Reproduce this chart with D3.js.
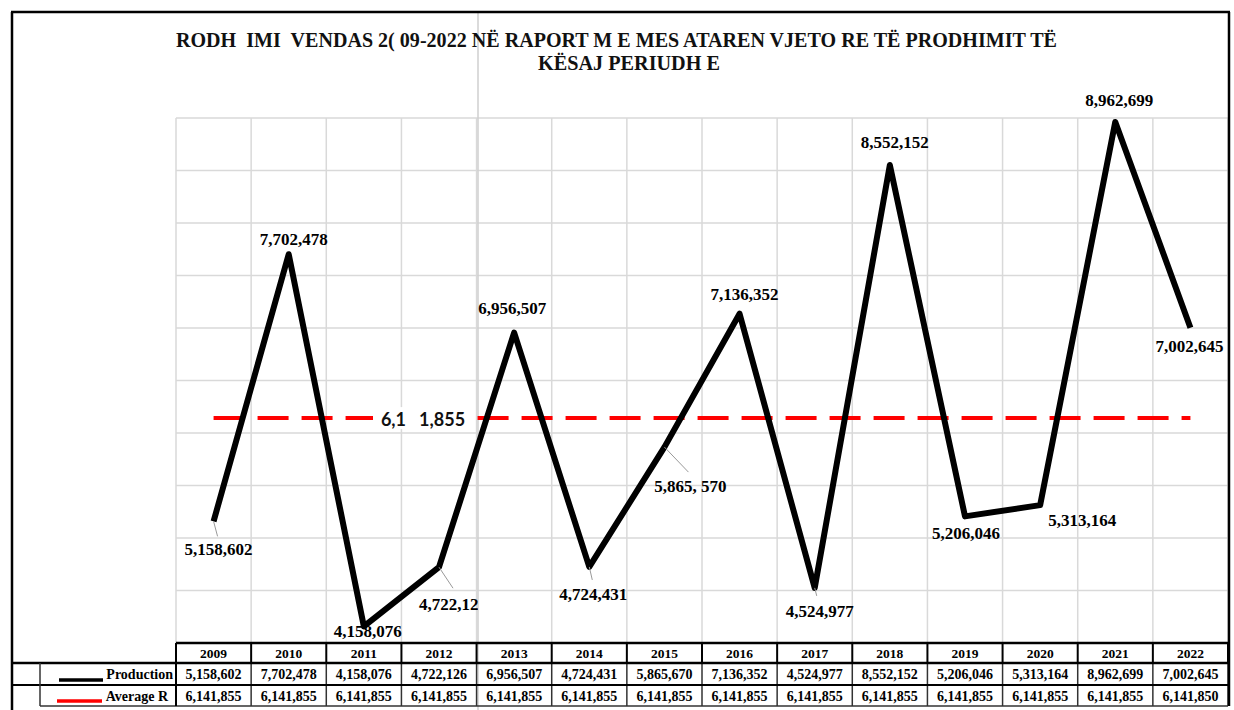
<!DOCTYPE html>
<html>
<head>
<meta charset="utf-8">
<script src="https://cdn.jsdelivr.net/npm/d3@7"></script>
<style>
  body { margin: 0; background: #fff; }
  svg { display: block; }
</style>
</head>
<body>
<div id="chart"></div>
<script>
// data
const years = ["2009","2010","2011","2012","2013","2014","2015","2016","2017","2018","2019","2020","2021","2022"];
const production = [5158602, 7702478, 4158076, 4722126, 6956507, 4724431, 5865670, 7136352, 4524977, 8552152, 5206046, 5313164, 8962699, 7002645];
const average = [6141855, 6141855, 6141855, 6141855, 6141855, 6141855, 6141855, 6141855, 6141855, 6141855, 6141855, 6141855, 6141855, 6141850];
const titleLines = ["RODH  IMI  VENDAS 2( 09-2022 NË RAPORT M E MES ATAREN VJETO RE TË PRODHIMIT TË", "KËSAJ PERIUDH E"];
const seriesNames = ["Production", "Average R"];

// label placement (dx, dy from the point), leader end offsets
const labelOffsets = [[5,34],[5,-9],[4,11],[14,43],[-2,-19],[4,33],[26,45],[5,-14],[5,29],[5,-17],[1,23],[42,21],[4,-16],[-1,24]];
const leaders = [[4,15],null,null,[14,21],null,[3,13],[24,25],null,[2,8],null,null,null,null,null];

const W = 1234, H = 710;
const plot = {left: 176, right: 1228, top: 118, bottom: 643};

const svg = d3.select("#chart").append("svg")
  .attr("width", W).attr("height", H);

const x = d3.scaleBand().domain(years).range([plot.left, plot.right]);
const y = d3.scaleLinear().domain([4000000, 9000000]).range([plot.bottom, plot.top]);
const cx = d => x(d) + x.bandwidth() / 2;
const fmt = d3.format(",");

// gridlines
const grid = svg.append("g").attr("stroke", "#d9d9d9").attr("stroke-width", 1.5);
grid.selectAll(".h").data(y.ticks(10).filter(t => t > 4000000))
  .join("line")
  .attr("x1", plot.left).attr("x2", plot.right)
  .attr("y1", d => y(d)).attr("y2", d => y(d));
grid.selectAll(".v").data(years.map(d => x(d)).concat([plot.right]))
  .join("line")
  .attr("x1", d => d).attr("x2", d => d)
  .attr("y1", plot.top).attr("y2", plot.bottom);

// page-break artifact line
svg.append("line")
  .attr("x1", 478).attr("x2", 478).attr("y1", 12).attr("y2", H)
  .attr("stroke", "#cfcfcf").attr("stroke-width", 1.5);

// average line
svg.append("path")
  .datum(average)
  .attr("fill", "none")
  .attr("stroke", "#ff0000")
  .attr("stroke-width", 4)
  .attr("stroke-dasharray", "31,13")
  .attr("d", d3.line().x((d, i) => cx(years[i])).y(d => y(d)));

// average label with white box
const avgX = cx("2012") - 16, avgY = y(average[3]);
svg.append("rect")
  .attr("x", avgX - 50).attr("y", avgY - 11).attr("width", 96).attr("height", 22)
  .attr("fill", "#fff");
svg.append("text")
  .attr("x", avgX).attr("y", avgY + 8)
  .attr("text-anchor", "middle")
  .style("white-space", "pre")
  .attr("font-family", "Lato, 'Open Sans', sans-serif")
  .attr("font-weight", "bold")
  .attr("font-size", 18)
  .attr("fill", "#111")
  .text("6,1   1,855");

// production line
svg.append("path")
  .datum(production)
  .attr("fill", "none")
  .attr("stroke", "#000")
  .attr("stroke-width", 6)
  .attr("stroke-linejoin", "round")
  .attr("d", d3.line().x((d, i) => cx(years[i])).y(d => y(d)));

// leader lines
svg.append("g").selectAll("line")
  .data(production.map((v, i) => ({v, i})).filter(d => leaders[d.i]))
  .join("line")
  .attr("x1", d => cx(years[d.i])).attr("y1", d => y(d.v))
  .attr("x2", d => cx(years[d.i]) + leaders[d.i][0])
  .attr("y2", d => y(d.v) + leaders[d.i][1])
  .attr("stroke", "#999").attr("stroke-width", 1);

// data labels (2012 label is cut off at the page-break line)
svg.append("clipPath").attr("id", "cut")
  .append("rect").attr("x", 0).attr("y", 0).attr("width", 478).attr("height", H);

svg.append("g")
  .attr("font-family", "'Liberation Serif', 'Times New Roman', serif")
  .attr("font-weight", "bold")
  .attr("font-size", 17)
  .attr("text-anchor", "middle")
  .selectAll("text")
  .data(production)
  .join("text")
  .attr("x", (d, i) => cx(years[i]) + labelOffsets[i][0])
  .attr("y", (d, i) => y(d) + labelOffsets[i][1])
  .attr("clip-path", (d, i) => years[i] === "2012" ? "url(#cut)" : null)
  .text((d, i) => years[i] === "2015" ? "5,865, 570" : fmt(d));

// title
svg.append("g")
  .attr("font-family", "'Liberation Serif', 'Times New Roman', serif")
  .attr("font-weight", "bold")
  .attr("font-size", 22)
  .attr("fill", "#111")
  .selectAll("text")
  .data(titleLines)
  .join("text")
  .style("white-space", "pre")
  .attr("x", (d, i) => i === 0 ? 176 : 538)
  .attr("y", (d, i) => i === 0 ? 47 : 70)
  .attr("textLength", (d, i) => i === 0 ? 881 : 182)
  .attr("lengthAdjust", "spacingAndGlyphs")
  .text(d => d);

// data table
const rowY = [643, 663, 685, 706];
const table = svg.append("g");
const serif = "'Liberation Serif', 'Times New Roman', serif";

table.append("g").selectAll("text")
  .data(years)
  .join("text")
  .attr("x", d => cx(d)).attr("y", 658)
  .attr("text-anchor", "middle")
  .attr("font-family", serif).attr("font-weight", "bold").attr("font-size", 13.5)
  .text(d => d);

[production, average].forEach((vals, r) => {
  table.append("g").selectAll("text")
    .data(vals)
    .join("text")
    .attr("x", (d, i) => cx(years[i])).attr("y", rowY[r + 1] + 16)
    .attr("text-anchor", "middle")
    .attr("font-family", serif).attr("font-weight", "bold").attr("font-size", 14)
    .text(d => fmt(d));
  table.append("text")
    .attr("x", r === 0 ? 173 : 168).attr("y", rowY[r + 1] + 16)
    .attr("text-anchor", "end")
    .attr("font-family", serif).attr("font-weight", "bold").attr("font-size", 14)
    .text(seriesNames[r]);
});

// legend keys
table.append("line").attr("x1", 59).attr("x2", 103).attr("y1", 680).attr("y2", 680)
  .attr("stroke", "#000").attr("stroke-width", 3.5);
table.append("line").attr("x1", 57).attr("x2", 102).attr("y1", 701).attr("y2", 701)
  .attr("stroke", "#ff0000").attr("stroke-width", 3.5);

// table rules
const bounds = years.map(d => x(d)).concat([plot.right]);
table.append("g").selectAll("line")
  .data(bounds)
  .join("line")
  .attr("x1", d => d).attr("x2", d => d)
  .attr("y1", rowY[0]).attr("y2", rowY[1])
  .attr("stroke", "#000").attr("stroke-width", 2);
table.append("g").selectAll("line")
  .data(bounds)
  .join("line")
  .attr("x1", d => d).attr("x2", d => d)
  .attr("y1", rowY[1]).attr("y2", rowY[3])
  .attr("stroke", "#333").attr("stroke-width", 1.5);
table.append("line").attr("x1", plot.left).attr("x2", plot.right)
  .attr("y1", rowY[0]).attr("y2", rowY[0]).attr("stroke", "#000").attr("stroke-width", 2.5);
table.append("line").attr("x1", 12).attr("x2", plot.right)
  .attr("y1", rowY[1]).attr("y2", rowY[1]).attr("stroke", "#000").attr("stroke-width", 2.5);
table.append("line").attr("x1", 12).attr("x2", plot.right)
  .attr("y1", rowY[2]).attr("y2", rowY[2]).attr("stroke", "#000").attr("stroke-width", 2);
table.append("line").attr("x1", 40).attr("x2", plot.right)
  .attr("y1", rowY[3]).attr("y2", rowY[3]).attr("stroke", "#333").attr("stroke-width", 1.5);
table.append("line").attr("x1", 40).attr("x2", 40)
  .attr("y1", rowY[1]).attr("y2", rowY[3]).attr("stroke", "#333").attr("stroke-width", 1.5);
table.append("line").attr("x1", plot.left).attr("x2", plot.left)
  .attr("y1", rowY[0]).attr("y2", rowY[3]).attr("stroke", "#000").attr("stroke-width", 2);

// outer frame
const frame = svg.append("g").attr("stroke", "#000").attr("stroke-width", 2.5);
frame.append("line").attr("x1", 11).attr("x2", 1230).attr("y1", 12).attr("y2", 12);
frame.append("line").attr("x1", 12).attr("x2", 12).attr("y1", 12).attr("y2", H);
frame.append("line").attr("x1", 1229).attr("x2", 1229).attr("y1", 12).attr("y2", rowY[3]);
</script>
</body>
</html>
